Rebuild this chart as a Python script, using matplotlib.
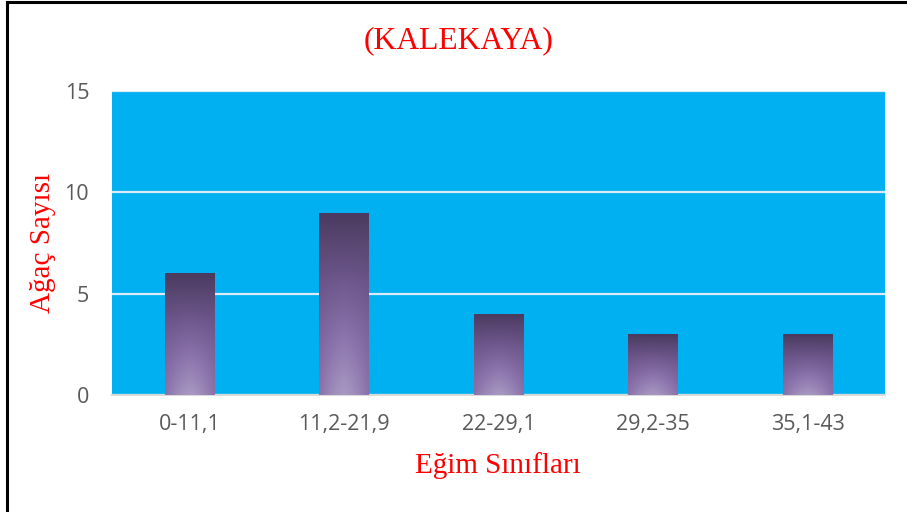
import matplotlib
matplotlib.use('Agg')
import matplotlib.pyplot as plt
import numpy as np
from matplotlib.colors import LinearSegmentedColormap
from matplotlib.patches import Rectangle

# veriler
siniflar = ['0-11,1', '11,2-21,9', '22-29,1', '29,2-35', '35,1-43']
agac_sayisi = [6, 9, 4, 3, 3]

baslik = '(KALEKAYA)'
x_etiket = 'Eğim Sınıfları'
y_etiket = 'Ağaç Sayısı'

fig = plt.figure(figsize=(9.07, 5.12), dpi=100)
ax = fig.add_axes([112 / 907, 1 - 395 / 512, (885 - 112) / 907, (395 - 91) / 512])
ax.set_facecolor('#00B0F0')

# mor gradyan (üst koyu, alt açık, altta ortada parlama)
cmap = LinearSegmentedColormap.from_list('mor', ['#4A3A5E', '#6A5488', '#8A72AA', '#A898C2'])
ny, nx = 200, 60
yfrac = np.linspace(0, 1, ny)[:, None]      # 0 = alt
xx = np.linspace(-1, 1, nx)[None, :]
alt = 1 - yfrac
grad = alt * (1 - 0.35 * np.abs(xx) ** 1.5 * alt)

genislik = 0.32
for i, v in enumerate(agac_sayisi):
    x0 = i - genislik / 2
    im = ax.imshow(grad, cmap=cmap, vmin=0, vmax=1, aspect='auto', origin='lower',
                   extent=(x0, x0 + genislik, 0, v), zorder=3, interpolation='bilinear')
    clip = Rectangle((x0, 0), genislik, v, transform=ax.transData)
    im.set_clip_path(clip)

ax.set_xlim(-0.5, len(siniflar) - 0.5)
ax.set_ylim(0, 15)
ax.set_yticks([0, 5, 10, 15])
ax.set_xticks(range(len(siniflar)))
ax.set_xticklabels(siniflar)
ax.yaxis.grid(True, color='#DCEAF6', linewidth=1.6, zorder=1)
ax.set_axisbelow(True)
ax.tick_params(length=0, labelsize=15.5, colors='#595959', pad=14)
ax.tick_params(axis='y', pad=16.5)
for lbl in ax.get_xticklabels() + ax.get_yticklabels():
    lbl.set_family('Open Sans')
for s in ['top', 'right', 'left']:
    ax.spines[s].set_visible(False)
ax.spines['bottom'].set_color('#D9D9D9')
ax.spines['bottom'].set_linewidth(1.5)

fig.text(459 / 907, 1 - 41 / 512, baslik, color='red', fontsize=22.8,
         family='Liberation Serif', ha='center', va='center')
fig.text(498 / 907, 1 - 466 / 512, x_etiket, color='red', fontsize=21,
         family='Liberation Serif', ha='center', va='center')
fig.text(43 / 907, 1 - 243 / 512, y_etiket, color='red', fontsize=21,
         family='Liberation Serif', ha='center', va='center', rotation=90)

# çerçeve
fig.add_artist(plt.Line2D([7 / 907, 7 / 907], [0, 1 - 1.5 / 512], color='black', linewidth=2.2))
fig.add_artist(plt.Line2D([7 / 907, 1], [1 - 1.5 / 512, 1 - 1.5 / 512], color='black', linewidth=2.2))

fig.savefig('out.png', dpi=100)
